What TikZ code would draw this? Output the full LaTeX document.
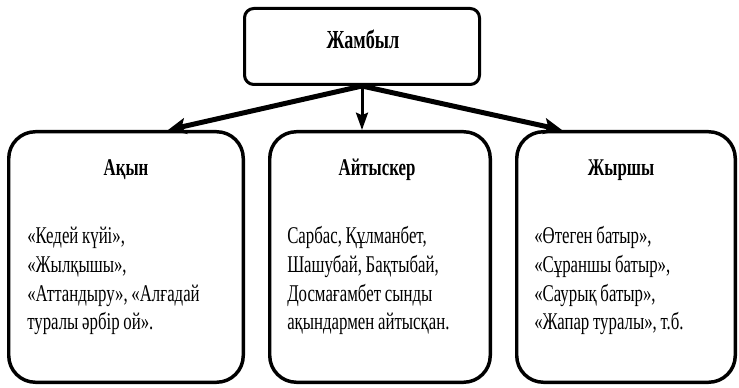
\documentclass[tikz,border=0pt]{standalone}
\usepackage{fontspec}
\setmainfont{Liberation Serif}[FakeStretch=0.7]
\usetikzlibrary{arrows.meta}

\newcommand{\boxfont}{\fontsize{18pt}{21.4pt}\selectfont}
\newcommand{\headfont}{\fontsize{19.5pt}{22pt}\selectfont}

\tikzset{
  topbox/.style={draw, line width=2.25pt, rounded corners=7pt, minimum width=176.25pt, minimum height=57pt, inner sep=0pt},
  leafbox/.style={draw, line width=2.6pt, rounded corners=20pt, minimum height=187.9pt, inner sep=0pt},
  fatarrow/.style={line width=3.75pt, -{Stealth[length=13.5pt,width=12pt,inset=3pt]}},
  thinarrow/.style={line width=2.25pt, -{Stealth[length=13pt,width=9pt,inset=2pt]}},
  titletext/.style={anchor=base, inner sep=0pt, font=\boxfont\bfseries},
  bodytext/.style={anchor=base west, inner sep=0pt, align=left, text width=200pt, font=\boxfont,
    execute at begin node={\spaceskip=2.8pt plus 1pt minus 0.5pt\xspaceskip=2.8pt\relax}},
}

\begin{document}
\begin{tikzpicture}[x=0.75pt,y=0.75pt,yscale=-1,xscale=1]
\useasboundingbox (0,0) rectangle (739,388);

%Shape: Rounded Rect (top)
\node (jambyl) [topbox] at (362,46.5) {};
%Shape: Rounded Rect (three below)
\node (akyn) [leafbox, minimum width=175.9pt] at (126,257) {};
\node (aitys) [leafbox, minimum width=165.4pt] at (380,257) {};
\node (zhyr) [leafbox, minimum width=163.9pt] at (626,257) {};

%Straight Lines
\draw [fatarrow] (jambyl.south) -- ([xshift=31.5pt]akyn.north) ;
\draw [thinarrow] (jambyl.south) -- (jambyl.south |- aitys.north) ;
\draw [fatarrow] (jambyl.south) -- ([xshift=-48pt]zhyr.north) ;

% Text Node
\node (jambylT) [titletext, font=\headfont\bfseries] at (363,49) {Жамбыл};
% Text Node
\node (akynT) [titletext] at (126,176) {Ақын};
% Text Node
\node (aitysT) [titletext] at (377,176) {Айтыскер};
% Text Node
\node (zhyrT) [titletext] at (621,176) {Жыршы};
% Text Node
\node (akynB) [bodytext] at (27,244) {«Кедей күйі»,\\«Жылқышы»,\\«Аттандыру», «Алғадай\\туралы әрбір ой».};
% Text Node
\node (aitysB) [bodytext] at (287,244) {Сарбас, Құлманбет,\\Шашубай, Бақтыбай,\\Досмағамбет сынды\\ақындармен айтысқан.};
% Text Node
\node (zhyrB) [bodytext] at (534,244) {«Өтеген батыр»,\\«Сұраншы батыр»,\\«Саурық батыр»,\\«Жапар туралы», т.б.};

\end{tikzpicture}
\end{document}
